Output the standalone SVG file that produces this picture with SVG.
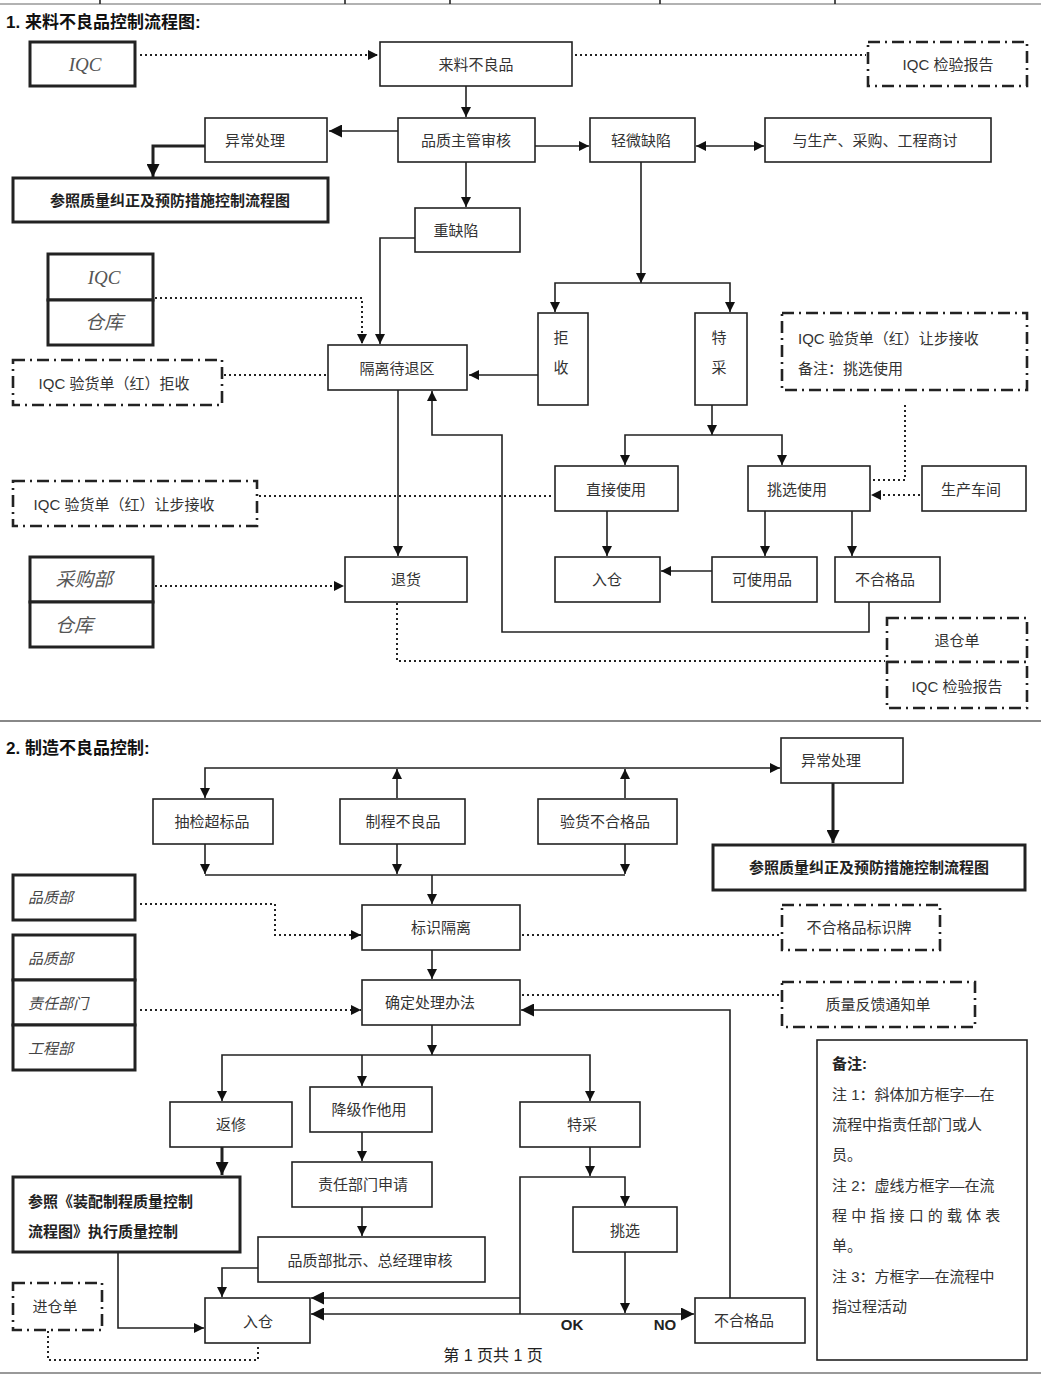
<svg xmlns="http://www.w3.org/2000/svg" width="1041" height="1386" viewBox="0 0 1041 1386">
<defs>
<marker id="a" viewBox="0 0 10 10" refX="10" refY="5" markerWidth="10" markerHeight="10" orient="auto-start-reverse" markerUnits="userSpaceOnUse"><path d="M0,0L10,5L0,10z" fill="#111"/></marker>
<marker id="b" viewBox="0 0 10 10" refX="10" refY="5" markerWidth="13" markerHeight="13" orient="auto-start-reverse" markerUnits="userSpaceOnUse"><path d="M0,0L10,5L0,10z" fill="#111"/></marker>
</defs>
<style>
text{font-family:"Liberation Sans","Noto Sans CJK SC",sans-serif;font-size:15px;fill:#333;text-anchor:middle;dominant-baseline:central}
.t{font-size:17px;font-weight:bold;fill:#111;text-anchor:start}
.i{font-family:"Liberation Serif","Noto Sans CJK SC",serif;font-style:italic;font-size:19px;fill:#555}
.ib{font-style:italic;fill:#444;text-anchor:start}
.bd{font-weight:bold;fill:#222}
.l{text-anchor:start}
rect{fill:#fff;stroke:#222;stroke-width:1.6}
.k{stroke-width:3}
.d{stroke-width:2.6;stroke-dasharray:12 5 2 5}
.c path,.c polyline,.c line{fill:none;stroke:#222;stroke-width:1.6}
.c .o{stroke-dasharray:2 3;stroke-width:2}
.c .h{stroke-width:3}
</style>
<rect x="0" y="0" width="1041" height="1386" style="fill:#fff;stroke:none"/>
<g class="c"><line x1="0" y1="4" x2="1041" y2="4" style="stroke:#999"/><line x1="100" y1="0" x2="100" y2="4"/><line x1="345" y1="0" x2="345" y2="4"/><line x1="450" y1="0" x2="450" y2="4"/><line x1="660" y1="0" x2="660" y2="4"/><line x1="835" y1="0" x2="835" y2="4"/>
<line x1="0" y1="721" x2="1041" y2="721" style="stroke:#888;stroke-width:2"/><line x1="0" y1="1373" x2="1041" y2="1373" style="stroke:#999;stroke-width:2"/></g>
<text class="t" x="6" y="22">1.  来料不良品控制流程图:</text>
<text class="t" x="6" y="748">2.  制造不良品控制:</text>

<g id="n-iqc1"><rect class="k" x="30" y="42" width="105" height="44"/><text class="i" x="85" y="64">IQC</text></g>
<g id="n-laoliao"><rect x="380" y="42" width="192" height="44"/><text x="476" y="64">来料不良品</text></g>
<g id="n-iqcrep1"><rect class="d" x="868" y="42" width="159" height="44"/><text x="948" y="64">IQC 检验报告</text></g>
<g id="n-yichang1"><rect x="205" y="118" width="122" height="44"/><text x="255" y="140">异常处理</text></g>
<g id="n-zhuguan"><rect x="398" y="118" width="137" height="44"/><text x="466" y="140">品质主管审核</text></g>
<g id="n-qingwei"><rect x="590" y="118" width="105" height="44"/><text x="641" y="140">轻微缺陷</text></g>
<g id="n-shangtao"><rect x="765" y="118" width="226" height="44"/><text x="875" y="140">与生产、采购、工程商讨</text></g>
<g id="n-canzhao1"><rect class="k" x="13" y="178" width="315" height="44"/><text class="bd" x="170" y="200">参照质量纠正及预防措施控制流程图</text></g>
<g id="n-zhong"><rect x="415" y="208" width="105" height="44"/><text x="456" y="230">重缺陷</text></g>
<g id="n-iqcck"><rect class="k" x="48" y="254" width="105" height="46"/><rect class="k" x="48" y="300" width="105" height="45"/><text class="i" x="104" y="277">IQC</text><text class="i" x="104" y="322">仓库</text></g>
<g id="n-geli"><rect x="328" y="345" width="139" height="45"/><text x="397" y="368">隔离待退区</text></g>
<g id="n-jushoudan"><rect class="d" x="13" y="360" width="209" height="45"/><text x="114" y="383">IQC 验货单（红）拒收</text></g>
<g id="n-jushou"><rect x="538" y="313" width="50" height="92"/><text x="561" y="337">拒</text><text x="561" y="367">收</text></g>
<g id="n-tecai1"><rect x="695" y="313" width="52" height="92"/><text x="719" y="337">特</text><text x="719" y="367">采</text></g>
<g id="n-rangbu1"><rect class="d" x="782" y="313" width="245" height="77"/><text class="l" x="798" y="338">IQC 验货单（红）让步接收</text><text class="l" x="798" y="368">备注：挑选使用</text></g>
<g id="n-zhijie"><rect x="555" y="466" width="123" height="45"/><text x="616" y="489">直接使用</text></g>
<g id="n-tiaoxuan1"><rect x="748" y="466" width="122" height="45"/><text x="797" y="489">挑选使用</text></g>
<g id="n-chejian"><rect x="922" y="466" width="104" height="45"/><text x="971" y="489">生产车间</text></g>
<g id="n-rangbu2"><rect class="d" x="13" y="481" width="244" height="45"/><text x="124" y="504">IQC 验货单（红）让步接收</text></g>
<g id="n-tuihuo"><rect x="345" y="557" width="122" height="45"/><text x="406" y="579">退货</text></g>
<g id="n-rucang1"><rect x="555" y="557" width="105" height="45"/><text x="607" y="579">入仓</text></g>
<g id="n-keshiyong"><rect x="712" y="557" width="105" height="45"/><text x="762" y="579">可使用品</text></g>
<g id="n-buhege1"><rect x="835" y="557" width="105" height="45"/><text x="885" y="579">不合格品</text></g>
<g id="n-caigou"><rect class="k" x="30" y="557" width="123" height="45"/><rect class="k" x="30" y="602" width="123" height="45"/><text class="i" x="84" y="579">采购部</text><text class="i" x="74" y="625">仓库</text></g>
<g id="n-tuicang"><rect class="d" x="887" y="618" width="140" height="44"/><rect class="d" x="887" y="662" width="140" height="46"/><text x="957" y="640">退仓单</text><text x="957" y="686">IQC 检验报告</text></g>

<g id="n-yichang2"><rect x="781" y="738" width="122" height="45"/><text x="831" y="760">异常处理</text></g>
<g id="n-choujian"><rect x="153" y="799" width="120" height="45"/><text x="212" y="821">抽检超标品</text></g>
<g id="n-zhicheng"><rect x="340" y="799" width="125" height="45"/><text x="403" y="821">制程不良品</text></g>
<g id="n-yanhuo"><rect x="538" y="799" width="139" height="45"/><text x="605" y="821">验货不合格品</text></g>
<g id="n-canzhao2"><rect class="k" x="713" y="845" width="312" height="45"/><text class="bd" x="869" y="867">参照质量纠正及预防措施控制流程图</text></g>
<g id="n-pinzhi1"><rect class="k" x="13" y="875" width="122" height="45"/><text class="ib" x="28" y="897">品质部</text></g>
<g id="n-biaoshi"><rect x="362" y="905" width="158" height="45"/><text x="441" y="927">标识隔离</text></g>
<g id="n-paizi"><rect class="d" x="782" y="905" width="158" height="45"/><text x="859" y="927">不合格品标识牌</text></g>
<g id="n-bumen"><rect class="k" x="13" y="935" width="122" height="45"/><rect class="k" x="13" y="980" width="122" height="45"/><rect class="k" x="13" y="1025" width="122" height="45"/><text class="ib" x="28" y="958">品质部</text><text class="ib" x="28" y="1003">责任部门</text><text class="ib" x="28" y="1048">工程部</text></g>
<g id="n-queding"><rect x="362" y="980" width="158" height="45"/><text x="430" y="1002">确定处理办法</text></g>
<g id="n-fankui"><rect class="d" x="782" y="982" width="193" height="45"/><text x="878" y="1004">质量反馈通知单</text></g>
<g id="n-beizhu"><rect x="817" y="1040" width="210" height="320"/>
<text class="l bd" x="832" y="1063">备注:</text>
<text class="l" x="832" y="1094">注 1：斜体加方框字—在</text><text class="l" x="832" y="1124">流程中指责任部门或人</text><text class="l" x="832" y="1154">员。</text>
<text class="l" x="832" y="1185">注 2：虚线方框字—在流</text><text class="l" x="832" y="1215">程 中 指 接 口 的 载 体 表</text><text class="l" x="832" y="1245">单。</text>
<text class="l" x="832" y="1276">注 3：方框字—在流程中</text><text class="l" x="832" y="1306">指过程活动</text></g>
<g id="n-fanxiu"><rect x="170" y="1102" width="122" height="45"/><text x="231" y="1124">返修</text></g>
<g id="n-jiangji"><rect x="310" y="1087" width="122" height="45"/><text x="369" y="1109">降级作他用</text></g>
<g id="n-tecai2"><rect x="520" y="1102" width="120" height="45"/><text x="582" y="1124">特采</text></g>
<g id="n-canzhao3"><rect class="k" x="13" y="1177" width="227" height="75"/><text class="l bd" x="28" y="1201">参照《装配制程质量控制</text><text class="l bd" x="28" y="1231">流程图》执行质量控制</text></g>
<g id="n-shenqing"><rect x="292" y="1162" width="140" height="45"/><text x="363" y="1184">责任部门申请</text></g>
<g id="n-pishi"><rect x="258" y="1237" width="227" height="45"/><text x="370" y="1260">品质部批示、总经理审核</text></g>
<g id="n-tiaoxuan2"><rect x="573" y="1207" width="104" height="45"/><text x="625" y="1230">挑选</text></g>
<g id="n-jincang"><rect class="d" x="13" y="1283" width="89" height="47"/><text x="55" y="1306">进仓单</text></g>
<g id="n-rucang2"><rect x="205" y="1298" width="105" height="45"/><text x="258" y="1321">入仓</text></g>
<g id="n-buhege2"><rect x="695" y="1298" width="110" height="45"/><text x="744" y="1320">不合格品</text></g>
<text class="bd" x="572" y="1324">OK</text><text class="bd" x="665" y="1324">NO</text>
<text x="493" y="1355" style="fill:#222;font-size:16px">第 1 页共 1 页</text>

<g id="connectors" class="c">
<line class="o" x1="140" y1="55" x2="378" y2="55" marker-end="url(#a)"/>
<line class="o" x1="575" y1="55" x2="866" y2="55"/>
<line x1="466" y1="86" x2="466" y2="117" marker-end="url(#a)"/>
<line x1="398" y1="131" x2="329" y2="131" marker-end="url(#b)"/>
<polyline class="h" points="205,146 153,146 153,177" marker-end="url(#b)"/>
<line x1="535" y1="146" x2="589" y2="146" marker-end="url(#a)"/>
<line x1="696" y1="146" x2="764" y2="146" marker-start="url(#a)" marker-end="url(#a)"/>
<line x1="466" y1="162" x2="466" y2="207" marker-end="url(#a)"/>
<polyline points="415,238 380,238 380,344" marker-end="url(#a)"/>
<polyline class="o" points="155,298 362,298 362,344" marker-end="url(#a)"/>
<line class="o" x1="224" y1="375" x2="327" y2="375"/>
<line x1="641" y1="162" x2="641" y2="283" marker-end="url(#a)"/>
<polyline points="555,312 555,283 730,283 730,312" marker-start="url(#a)" marker-end="url(#a)"/>
<line x1="538" y1="375" x2="469" y2="375" marker-end="url(#a)"/>
<line x1="712" y1="405" x2="712" y2="435" marker-end="url(#a)"/>
<polyline points="625,465 625,435 782,435 782,465" marker-start="url(#a)" marker-end="url(#a)"/>
<polyline class="o" points="905,405 905,480 871,480"/>
<line class="o" x1="920" y1="495" x2="871" y2="495" marker-end="url(#a)"/>
<line class="o" x1="259" y1="496" x2="553" y2="496"/>
<line x1="607" y1="511" x2="607" y2="556" marker-end="url(#a)"/>
<line x1="765" y1="511" x2="765" y2="556" marker-end="url(#a)"/>
<line x1="852" y1="511" x2="852" y2="556" marker-end="url(#a)"/>
<line x1="712" y1="571" x2="661" y2="571" marker-end="url(#a)"/>
<polyline points="869,602 869,632 502,632 502,435 432,435 432,391" marker-end="url(#a)"/>
<line x1="398" y1="390" x2="398" y2="556" marker-end="url(#a)"/>
<line class="o" x1="155" y1="586" x2="344" y2="586" marker-end="url(#a)"/>
<polyline class="o" points="397,603 397,661 885,661"/>

<polyline points="205,798 205,768 780,768" marker-start="url(#a)" marker-end="url(#a)"/>
<line x1="397" y1="798" x2="397" y2="769" marker-end="url(#a)"/>
<line x1="625" y1="798" x2="625" y2="769" marker-end="url(#a)"/>
<line x1="205" y1="844" x2="205" y2="874" marker-end="url(#a)"/>
<line x1="397" y1="844" x2="397" y2="874" marker-end="url(#a)"/>
<line x1="625" y1="844" x2="625" y2="874" marker-end="url(#a)"/>
<line x1="205" y1="875" x2="625" y2="875"/>
<line x1="432" y1="875" x2="432" y2="904" marker-end="url(#a)"/>
<line class="h" x1="833" y1="783" x2="833" y2="843" marker-end="url(#b)"/>
<polyline class="o" points="140,904 275,904 275,935 361,935" marker-end="url(#a)"/>
<line class="o" x1="522" y1="935" x2="780" y2="935"/>
<line x1="432" y1="950" x2="432" y2="979" marker-end="url(#a)"/>
<line class="o" x1="140" y1="1010" x2="361" y2="1010" marker-end="url(#a)"/>
<line class="o" x1="522" y1="995" x2="780" y2="995"/>
<polyline points="730,1298 730,1010 521,1010" marker-end="url(#b)"/>
<line x1="432" y1="1025" x2="432" y2="1055" marker-end="url(#a)"/>
<polyline points="222,1101 222,1055 590,1055 590,1101" marker-start="url(#a)" marker-end="url(#a)"/>
<line x1="362" y1="1055" x2="362" y2="1086" marker-end="url(#a)"/>
<line class="h" x1="222" y1="1147" x2="222" y2="1175" marker-end="url(#b)"/>
<line x1="362" y1="1132" x2="362" y2="1161" marker-end="url(#a)"/>
<line x1="362" y1="1207" x2="362" y2="1236" marker-end="url(#a)"/>
<polyline points="258,1268 222,1268 222,1297" marker-end="url(#a)"/>
<polyline points="118,1252 118,1328 204,1328" marker-end="url(#a)"/>
<polyline class="o" points="48,1331 48,1360 258,1360 258,1344"/>
<line x1="590" y1="1147" x2="590" y2="1176" marker-end="url(#a)"/>
<polyline points="520,1314 520,1177 625,1177 625,1206" marker-end="url(#a)"/>
<line x1="520" y1="1298" x2="311" y2="1298" marker-end="url(#b)"/>
<line x1="625" y1="1252" x2="625" y2="1313" marker-end="url(#a)"/>
<line x1="311" y1="1314" x2="694" y2="1314" marker-start="url(#b)" marker-end="url(#b)"/>
</g>
</svg>
